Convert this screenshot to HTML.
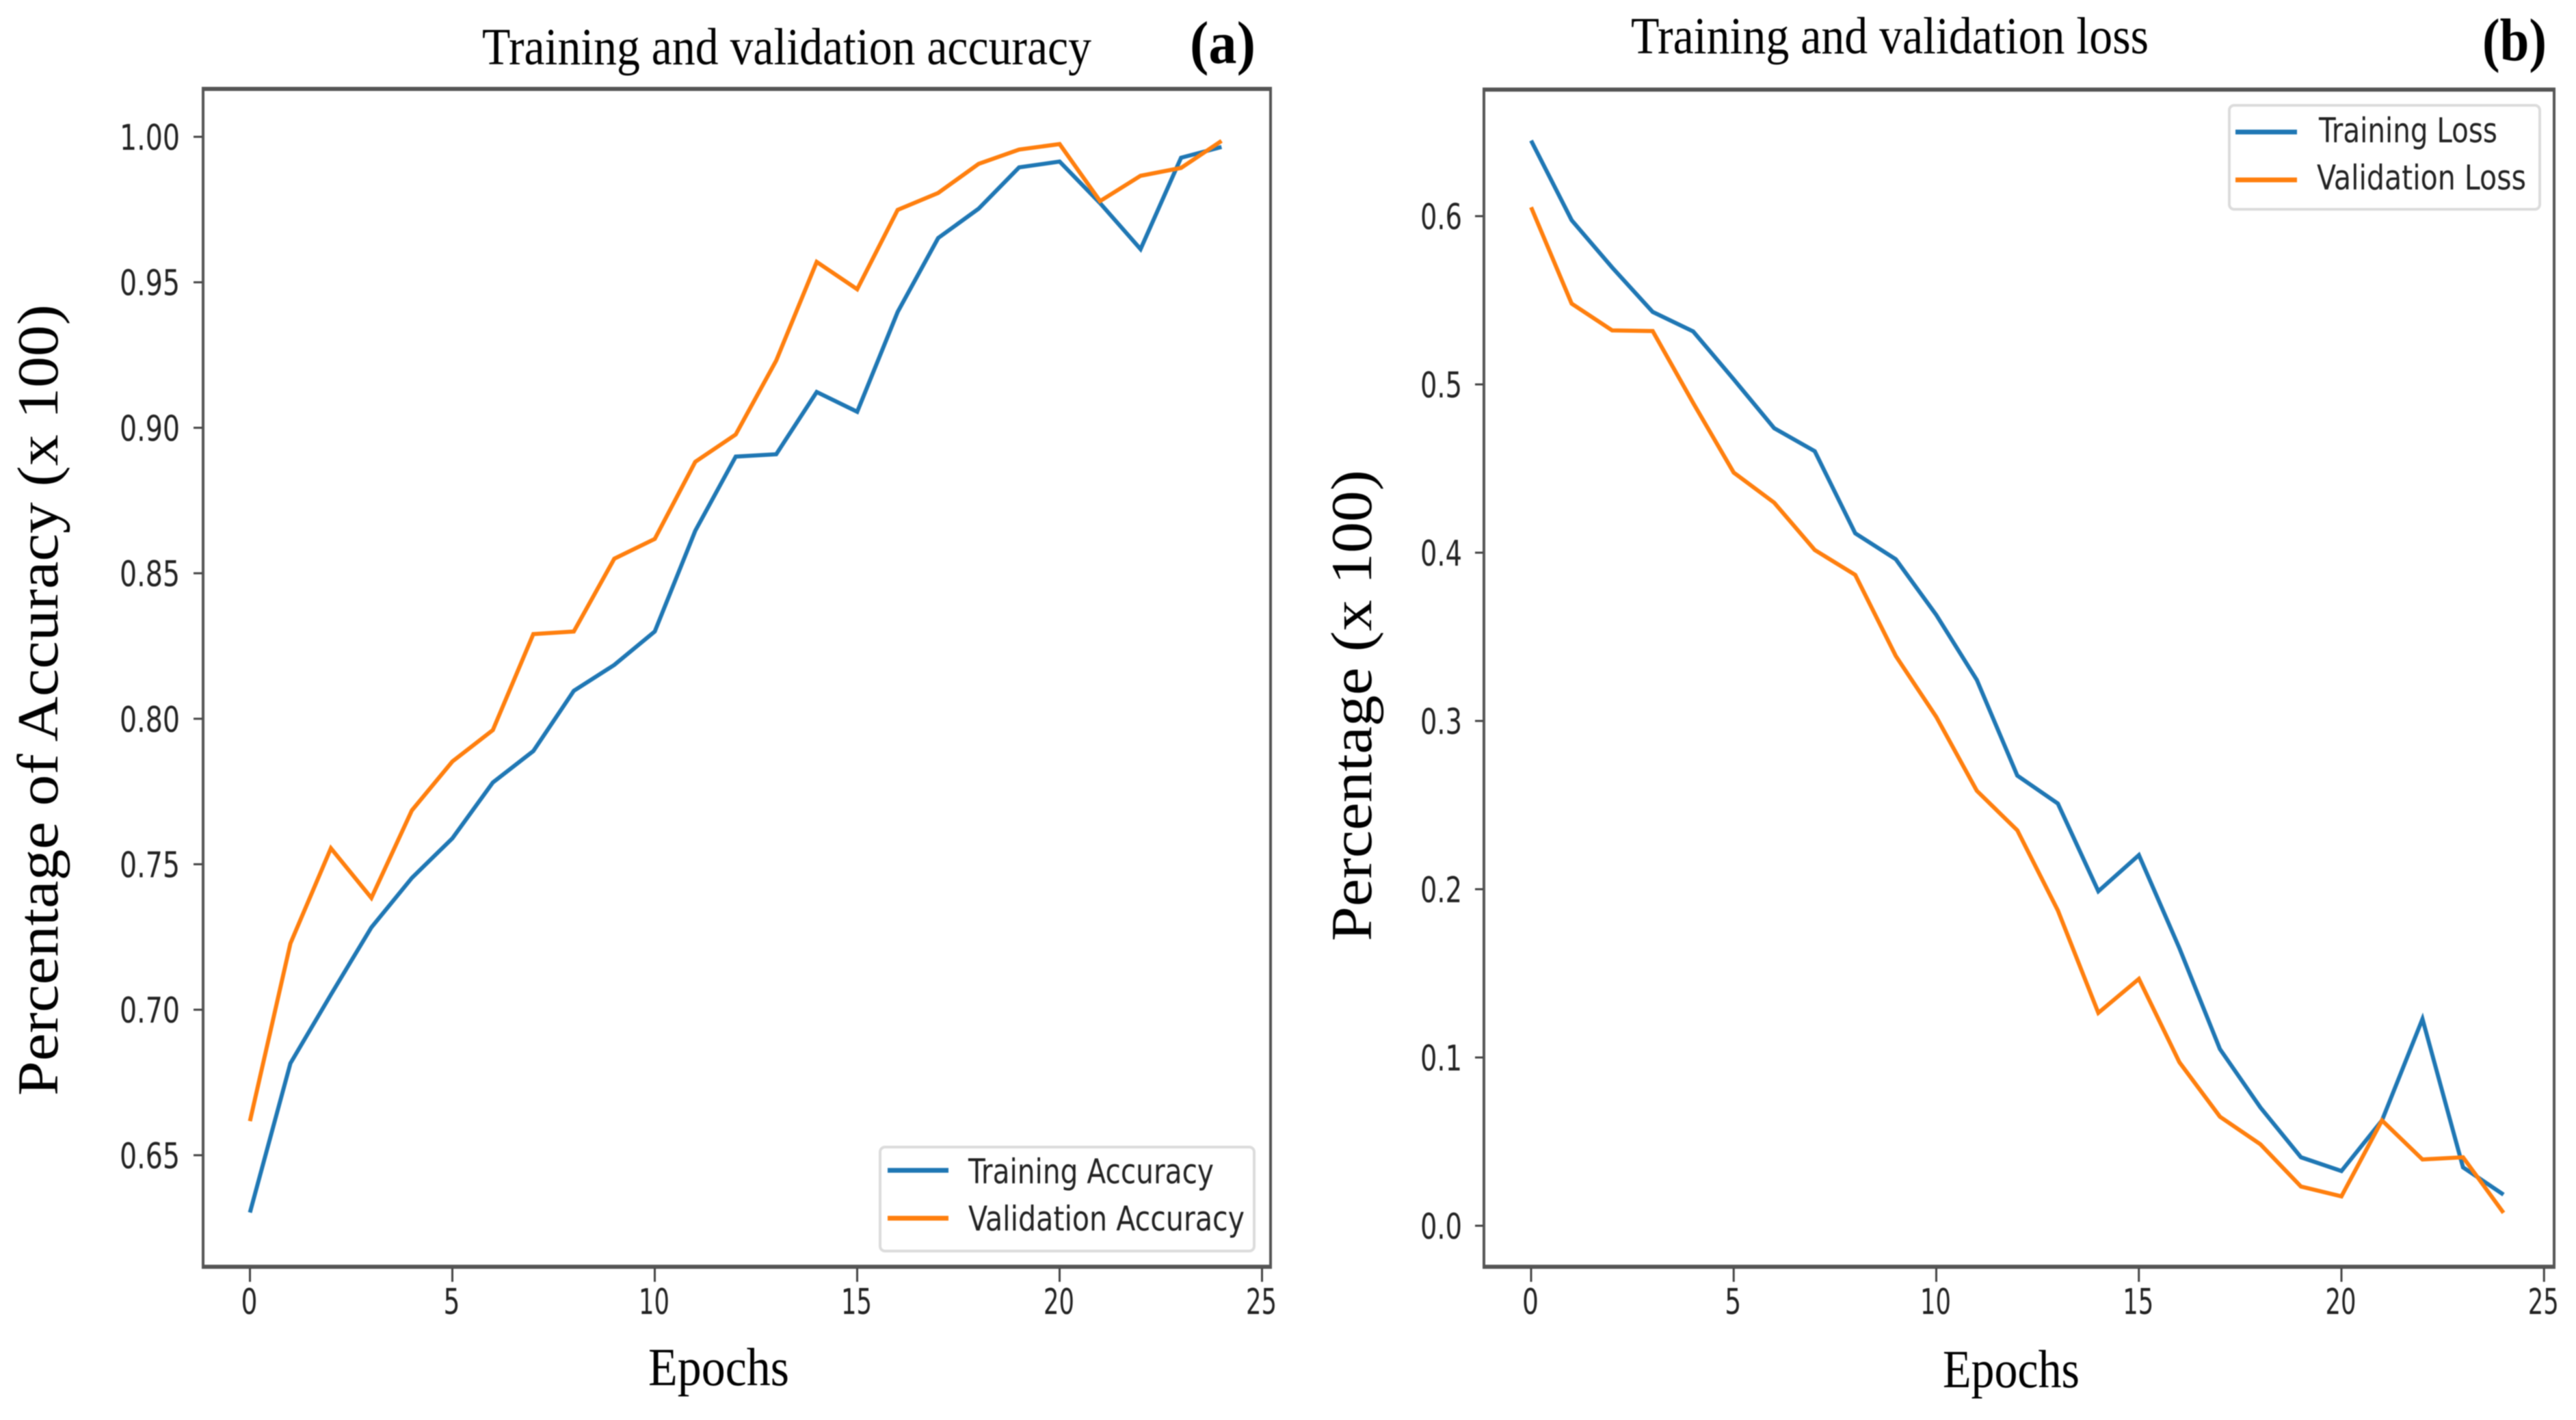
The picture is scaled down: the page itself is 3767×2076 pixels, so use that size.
<!DOCTYPE html>
<html lang="en">
<head>
<meta charset="utf-8">
<title>Training and validation accuracy and loss</title>
<style>
  html, body { margin: 0; padding: 0; background: #fff; }
  body { width: 3767px; height: 2076px; overflow: hidden; }
  svg { display: block; filter: blur(0.8px); }
  .serif { font-family: "Liberation Serif", serif; fill: #000; }
  .sans { font-family: "DejaVu Sans", "Liberation Sans", sans-serif; fill: #222; }
</style>
</head>
<body>
<svg id="figure" xmlns="http://www.w3.org/2000/svg" width="3767" height="2076" viewBox="0 0 3767 2076">
  <rect x="0" y="0" width="3767" height="2076" fill="#fff"/>

  <g id="panel-a">
    <text class="serif" x="705" y="94" font-size="76" textLength="891" lengthAdjust="spacingAndGlyphs">Training and validation accuracy</text>
    <text class="serif" x="1740" y="92" font-size="88" font-weight="bold" textLength="96" lengthAdjust="spacingAndGlyphs">(a)</text>
    <text class="serif" transform="translate(84,1602) rotate(-90)" x="0" y="0" font-size="85" textLength="1157" lengthAdjust="spacingAndGlyphs">Percentage of Accuracy (x 100)</text>
    <text class="serif" x="948" y="2025" font-size="78" textLength="206" lengthAdjust="spacingAndGlyphs">Epochs</text>
    <g fill="none" stroke="#555">
      <line x1="297" y1="130" x2="297" y2="1852" stroke-width="4"/>
      <line x1="1858" y1="130" x2="1858" y2="1852" stroke-width="4"/>
      <line x1="295" y1="130" x2="1860" y2="130" stroke-width="6"/>
      <line x1="295" y1="1852" x2="1860" y2="1852" stroke-width="6"/>
    </g>
    <g id="a-ticks"></g>
    <g id="a-lines"></g>
    <g>
      <rect x="1287" y="1677" width="547" height="152" rx="7" fill="#fff" stroke="#dcdcdc" stroke-width="4"/>
      <line x1="1298" y1="1711" x2="1387" y2="1711" stroke="#1f77b4" stroke-width="7"/>
      <text class="sans" x="1416" y="1730" font-size="50" textLength="359" lengthAdjust="spacingAndGlyphs">Training Accuracy</text>
      <line x1="1298" y1="1781" x2="1387" y2="1781" stroke="#ff7f0e" stroke-width="7"/>
      <text class="sans" x="1416" y="1799" font-size="50" textLength="404" lengthAdjust="spacingAndGlyphs">Validation Accuracy</text>
    </g>
  </g>

  <g id="panel-b">
    <text class="serif" x="2385" y="78" font-size="76" textLength="757" lengthAdjust="spacingAndGlyphs">Training and validation loss</text>
    <text class="serif" x="3630" y="88" font-size="88" font-weight="bold" textLength="94" lengthAdjust="spacingAndGlyphs">(b)</text>
    <text class="serif" transform="translate(2005,1376) rotate(-90)" x="0" y="0" font-size="85" textLength="689" lengthAdjust="spacingAndGlyphs">Percentage (x 100)</text>
    <text class="serif" x="2841" y="2028" font-size="78" textLength="200" lengthAdjust="spacingAndGlyphs">Epochs</text>
    <g fill="none" stroke="#555">
      <line x1="2170" y1="131" x2="2170" y2="1852" stroke-width="4"/>
      <line x1="3735" y1="131" x2="3735" y2="1852" stroke-width="4"/>
      <line x1="2168" y1="131" x2="3737" y2="131" stroke-width="6"/>
      <line x1="2168" y1="1852" x2="3737" y2="1852" stroke-width="6"/>
    </g>
    <g id="b-ticks"></g>
    <g id="b-lines"></g>
    <g>
      <rect x="3260" y="154" width="454" height="152" rx="7" fill="#fff" stroke="#dcdcdc" stroke-width="4"/>
      <line x1="3269" y1="193" x2="3359" y2="193" stroke="#1f77b4" stroke-width="7"/>
      <text class="sans" x="3391" y="208" font-size="50" textLength="261" lengthAdjust="spacingAndGlyphs">Training Loss</text>
      <line x1="3269" y1="263" x2="3359" y2="263" stroke="#ff7f0e" stroke-width="7"/>
      <text class="sans" x="3388" y="277" font-size="50" textLength="306" lengthAdjust="spacingAndGlyphs">Validation Loss</text>
    </g>
  </g>
</svg>

<script>
var epochs = [0,1,2,3,4,5,6,7,8,9,10,11,12,13,14,15,16,17,18,19,20,21,22,23,24];
var accuracyTraining = [0.6303,0.6816,0.7052,0.7283,0.7453,0.7589,0.7781,0.7889,0.8096,0.8185,0.8300,0.8646,0.8901,0.8909,0.9123,0.9055,0.9398,0.9652,0.9753,0.9895,0.9915,0.9772,0.9614,0.9928,0.9965];
var accuracyValidation = [0.6617,0.7228,0.7555,0.7384,0.7685,0.7853,0.7961,0.8291,0.8300,0.8550,0.8618,0.8883,0.8977,0.9231,0.9570,0.9476,0.9749,0.9807,0.9907,0.9956,0.9975,0.9779,0.9866,0.9893,0.9986];
var lossTraining = [0.6449,0.5976,0.5695,0.5431,0.5315,0.5030,0.4740,0.4603,0.4115,0.3961,0.3630,0.3244,0.2675,0.2509,0.1988,0.2203,0.1650,0.1050,0.0703,0.0407,0.0325,0.0626,0.1229,0.0347,0.0185];
var lossValidation = [0.6053,0.5480,0.5321,0.5317,0.4890,0.4476,0.4297,0.4016,0.3868,0.3386,0.3024,0.2585,0.2350,0.1874,0.1265,0.1467,0.0972,0.0648,0.0484,0.0233,0.0175,0.0626,0.0394,0.0407,0.0077];
var xTickValues = [0,5,10,15,20,25];
var xTickLabels = ["0","5","10","15","20","25"];
var accuracyTickValues = [0.65,0.70,0.75,0.80,0.85,0.90,0.95,1.00];
var accuracyTickLabels = ["0.65","0.70","0.75","0.80","0.85","0.90","0.95","1.00"];
var lossTickValues = [0.0,0.1,0.2,0.3,0.4,0.5,0.6];
var lossTickLabels = ["0.0","0.1","0.2","0.3","0.4","0.5","0.6"];

var SVG_NS = "http://www.w3.org/2000/svg";
function xA(v) { return 365.5 + v * 59.2; }
function yA(v) { return 200 + (1 - v) * 4254; }
function xB(v) { return 2239 + v * 59.25; }
function yB(v) { return 1792 - v * 2460; }

function shape(tag, parent) {
  var el = document.createElementNS(SVG_NS, tag);
  parent.appendChild(el);
  return el;
}
function drawLine(parent, x1, y1, x2, y2) {
  var el = shape("line", parent);
  el.setAttribute("x1", x1);
  el.setAttribute("y1", y1);
  el.setAttribute("x2", x2);
  el.setAttribute("y2", y2);
  el.setAttribute("stroke", "#444");
  el.setAttribute("stroke-width", 3);
  return el;
}
function drawLabel(parent, str, x, y, len) {
  var el = shape("text", parent);
  el.setAttribute("class", "sans");
  el.setAttribute("x", x);
  el.setAttribute("y", y);
  el.setAttribute("font-size", 52);
  el.setAttribute("textLength", len);
  el.setAttribute("lengthAdjust", "spacingAndGlyphs");
  el.textContent = str;
  return el;
}
function drawSeries(parent, xs, ys, xFn, yFn, color) {
  var d = "";
  for (var i = 0; i < xs.length; i++) {
    d += (i ? "L" : "M") + xFn(xs[i]).toFixed(1) + " " + yFn(ys[i]).toFixed(1);
  }
  var el = shape("path", parent);
  el.setAttribute("d", d);
  el.setAttribute("fill", "none");
  el.setAttribute("stroke", color);
  el.setAttribute("stroke-width", 6);
  el.setAttribute("stroke-linejoin", "miter");
  return el;
}

var aTicks = document.getElementById("a-ticks");
var bTicks = document.getElementById("b-ticks");
var aLines = document.getElementById("a-lines");
var bLines = document.getElementById("b-lines");
var i, mark, label, w;

for (i = 0; i < xTickValues.length; i++) {
  mark = drawLine(aTicks, xA(xTickValues[i]), 1854, xA(xTickValues[i]), 1874);
  
  
  w = xTickLabels[i].length === 1 ? 24 : 45;
  label = drawLabel(aTicks, xTickLabels[i], xA(xTickValues[i]) - w / 2 - 1, 1921, w);
  
  

  mark = drawLine(bTicks, xB(xTickValues[i]), 1854, xB(xTickValues[i]), 1874);
  
  
  label = drawLabel(bTicks, xTickLabels[i], xB(xTickValues[i]) - w / 2 - 1, 1921, w);
  
  
}
for (i = 0; i < accuracyTickValues.length; i++) {
  mark = drawLine(aTicks, 283, yA(accuracyTickValues[i]), 296, yA(accuracyTickValues[i]));
  
  
  label = drawLabel(aTicks, accuracyTickLabels[i], 175, yA(accuracyTickValues[i]) + 19, 88);
  
  
}
for (i = 0; i < lossTickValues.length; i++) {
  mark = drawLine(bTicks, 2157, yB(lossTickValues[i]), 2169, yB(lossTickValues[i]));
  
  
  label = drawLabel(bTicks, lossTickLabels[i], 2077, yB(lossTickValues[i]) + 19, 61);
  
  
}

var series;
series = drawSeries(aLines, epochs, accuracyTraining, xA, yA, "#1f77b4");


series = drawSeries(aLines, epochs, accuracyValidation, xA, yA, "#ff7f0e");


series = drawSeries(bLines, epochs, lossTraining, xB, yB, "#1f77b4");


series = drawSeries(bLines, epochs, lossValidation, xB, yB, "#ff7f0e");


</script>
</body>
</html>
